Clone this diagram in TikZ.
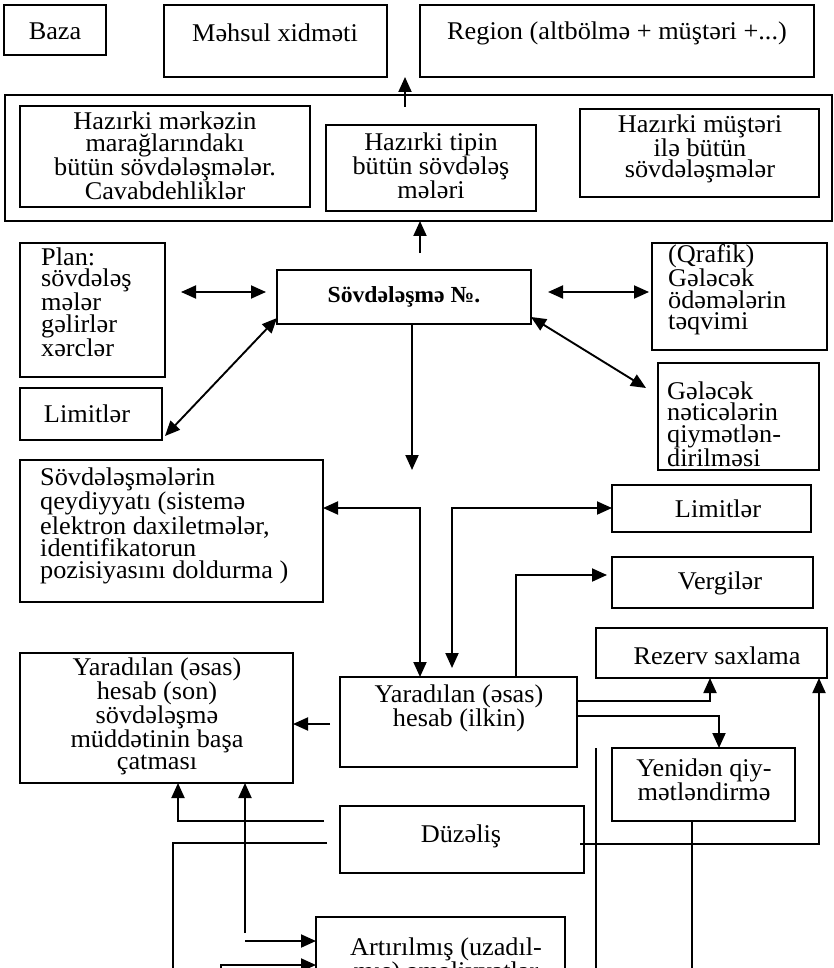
\documentclass[tikz,border=0pt]{standalone}
\usepackage{fontspec}
\setmainfont{Liberation Serif}[FakeStretch=1.03]
\usetikzlibrary{arrows.meta}
\newcommand\txtsize{\fontsize{25.5}{21.5}\selectfont}
\newcommand\boldsize{\fontsize{23}{21}\selectfont\bfseries}
% box by its corners: name, x1, y1, x2, y2 (pixel-like units, y downwards)
\newcommand\boxat[5]{%
  \node[frame, minimum width={(#4-#2)*1pt}, minimum height={(#5-#3)*1pt}]
    (#1) at ({(#2+#4)/2},{(#3+#5)/2}) {};}
\tikzset{
  frame/.style={draw, rectangle, line width=1.9pt, inner sep=0pt, outer sep=0pt},
  lbl/.style={inner sep=0pt, align=center, font=\txtsize},
  lbll/.style={inner sep=0pt, align=left, anchor=west, font=\txtsize},
  conn/.style={line width=1.9pt},
  arr/.style={conn, -{Triangle[length=15pt,width=13pt]}},
  darr/.style={conn, {Triangle[length=15pt,width=13pt]}-{Triangle[length=15pt,width=13pt]}},
}
\begin{document}
\begin{tikzpicture}[x=1pt,y=-1pt]
\useasboundingbox (0,0) rectangle (834,968);
\fill[white] (0,0) rectangle (834,968);
\clip (0,0) rectangle (834,968);

% ---- frames ----
\boxat{baza}{4}{5}{106}{55}
\boxat{mahsul}{164}{5}{387}{77}
\boxat{region}{420}{5}{814}{77}
\boxat{outer}{5}{95}{832}{221}
\boxat{merkez}{20}{106}{310}{207}
\boxat{tip}{326}{125}{536}{211}
\boxat{mustari}{580}{109}{819}{197}
\boxat{plan}{20}{243}{165}{377}
\boxat{sov}{277}{270}{531}{324}
\boxat{qrafik}{652}{243}{827}{350}
\boxat{limA}{20}{388}{162}{440}
\boxat{gelecek}{658}{363}{819}{470}
\boxat{qeyd}{20}{460}{323}{602}
\boxat{limB}{612}{485}{811}{532}
\boxat{vergi}{612}{557}{813}{608}
\boxat{rezerv}{596}{628}{827}{678}
\boxat{son}{20}{653}{293}{783}
\boxat{ilkin}{340}{677}{577}{767}
\boxat{yeniden}{612}{748}{795}{821}
\boxat{duzelis}{340}{806}{584}{873}
\boxat{artir}{316}{917}{565}{1010}

% ---- texts ----
\node[lbl] (bazaT) at (55,31) {Baza};
\node[lbl] (mahsulT) at (275,33) {Məhsul xidməti};
\node[lbl] (regionT) at (617,33) {Region (altbölmə + müştəri +...)};
\node[lbl] (merkezT) at (165,156) {Hazırki mərkəzin\\marağlarındakı\\bütün sövdələşmələr.\\Cavabdehliklər};
\node[lbl] (tipT) at (431,166) {Hazırki tipin\\bütün sövdələş\\mələri};
\node[lbl] (mustariT) at (700,149) {Hazırki müştəri\\ilə bütün\\sövdələşmələr};
\node[lbll] (planT) at (41,302) {Plan:\\sövdələş\\mələr\\gəlirlər\\xərclər};
\node[inner sep=0pt, font=\boldsize] (sovT) at (404,297) {Sövdələşmə №.};
\node[lbll] (qrafikT) at (668,290) {(Qrafik)\\Gələcək\\ödəmələrin\\təqvimi};
\node[lbl] (limAT) at (87,414) {Limitlər};
\node[lbll] (gelecekT) at (667,424) {Gələcək\\nəticələrin\\qiymətlən-\\dirilməsi};
\node[lbll] (qeydT) at (40,526) {Sövdələşmələrin\\qeydiyyatı (sistemə\\elektron daxiletmələr,\\identifikatorun\\pozisiyasını doldurma )};
\node[lbl] (limBT) at (718,509) {Limitlər};
\node[lbl] (vergiT) at (720,583) {Vergilər};
\node[lbl] (rezervT) at (717,656) {Rezerv saxlama};
\node[lbl] (sonT) at (157,716) {Yaradılan (əsas)\\hesab (son)\\sövdələşmə\\müddətinin başa\\çatması};
\node[lbl] (ilkinT) at (459,708) {Yaradılan (əsas)\\hesab (ilkin)};
\node[lbl] (yenidenT) at (704,780) {Yenidən qiy-\\mətləndirmə};
\node[lbl] (duzelisT) at (461,836) {Düzəliş};
\node[lbl] (artirT) at (446,961) {Artırılmış (uzadıl-\\mış) əməliyyatlar};

% ---- connectors ----
\coordinate (upA) at (405,107);
\draw[arr] (upA) -- (upA |- mahsul.south);
\coordinate (upB) at (420,253);
\draw[arr] (upB) -- (upB |- outer.south);

\draw[darr, shorten <=16pt, shorten >=11pt] ([yshift=18pt]plan.east) -- ([yshift=5pt]sov.west);
\draw[darr, shorten <=17pt, shorten >=3pt] ([yshift=5pt]sov.east) -- ([yshift=4.5pt]qrafik.west);
\draw[darr] ([yshift=6pt]sov.south west) -- ([xshift=3pt,yshift=4pt]limA.south east);
\draw[darr] ([yshift=7pt]sov.south east) -- ([xshift=-12pt,yshift=-25pt]gelecek.north west);
\draw[arr] ([xshift=8pt]sov.south) -- ++(0,146);

\draw[darr] ([xshift=-38.5pt]ilkin.north) |- ([yshift=23pt]qeyd.east);
\draw[darr] ([xshift=-6.5pt,yshift=9pt]ilkin.north) |- ([yshift=0.5pt]limB.west);
\draw[arr] ([xshift=57.5pt]ilkin.north) |- ([xshift=-5pt,yshift=7.5pt]vergi.west);

\draw[arr] ([yshift=21pt]ilkin.east) -| ([xshift=-1.5pt]rezerv.south);
\draw[arr] ([yshift=6pt]ilkin.east) -| ([xshift=15.5pt]yeniden.north);
\draw[conn] ([xshift=-16pt]yeniden.north west) -- ++(0,240);
\draw[conn] ([xshift=-11.5pt]yeniden.south) -- ++(0,160);
\draw[arr] ([xshift=-4pt,yshift=-4.5pt]duzelis.east) -| ([xshift=-8pt]rezerv.south east);

\draw[arr] ([xshift=-10pt,yshift=-2pt]ilkin.west) -- ([yshift=-6pt]son.east);
\draw[arr] ([xshift=-16pt,yshift=18.5pt]duzelis.west) -| ([xshift=21.5pt]son.south);
\draw[conn] ([xshift=-13pt,yshift=-3.5pt]duzelis.west) -- ++(-154,0) -- ++(0,140);

\draw[arr] ([xshift=88.5pt,yshift=-150pt]son.south) -- ([xshift=88.5pt]son.south);
\draw[arr] ([xshift=-71pt,yshift=22.5pt]artir.west) -- ([yshift=22.5pt]artir.west);
\draw[arr] ([xshift=-95pt,yshift=-20pt]artir.west) |- ([yshift=-1.5pt]artir.west);
\end{tikzpicture}
\end{document}
